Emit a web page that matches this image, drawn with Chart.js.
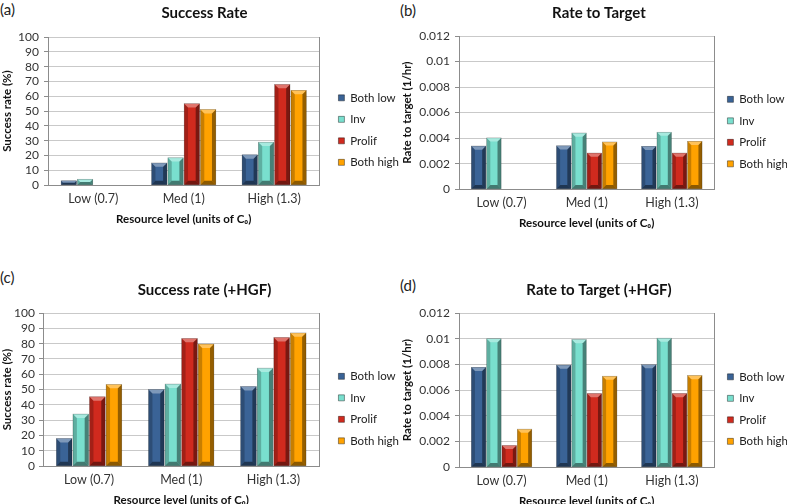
<!DOCTYPE html>
<html>
<head>
<meta charset="utf-8">
<script src="https://cdn.jsdelivr.net/npm/chart.js@4.4.0/dist/chart.umd.min.js"></script>
<style>
    body { margin: 0; background: #fff; width: 787px; height: 504px; position: relative; overflow: hidden; font-family: Lato, sans-serif; }
    .panel { position: absolute; }
    .tag { position: absolute; font-size: 15px; color: #222; }
</style>
</head>
<body>
<div class="tag" style="left:0px;top:0px">(a)</div>
<div class="tag" style="left:400px;top:1px">(b)</div>
<div class="tag" style="left:0px;top:268px">(c)</div>
<div class="tag" style="left:400px;top:276px">(d)</div>

<div class="panel" style="left:0px;top:0px;width:409px;height:226px"><canvas id="chart-a"></canvas></div>
<div class="panel" style="left:400px;top:0px;width:398px;height:230px"><canvas id="chart-b"></canvas></div>
<div class="panel" style="left:0px;top:277px;width:409px;height:230px"><canvas id="chart-c"></canvas></div>
<div class="panel" style="left:400px;top:277px;width:398px;height:231px"><canvas id="chart-d"></canvas></div>

<script>
// ---- data ----
const categories = ['Low (0.7)', 'Med (1)', 'High (1.3)'];
const seriesNames = ['Both low', 'Inv', 'Prolif', 'Both high'];
const seriesColors = ['#3a6396', '#79dfce', '#d02a1e', '#ffa200'];

// (a) Success Rate
const successBothLow = [3, 15, 20.5];
const successInv = [4, 18.5, 29];
const successProlif = [0, 55, 68];
const successBothHigh = [0, 51, 64];

// (b) Rate to Target
const rateBothLow = [0.00338, 0.0034, 0.00336];
const rateInv = [0.00402, 0.0044, 0.00446];
const rateProlif = [0, 0.00283, 0.00283];
const rateBothHigh = [0, 0.0037, 0.00375];

// (c) Success rate (+HGF)
const hgfSuccessBothLow = [18, 50, 52];
const hgfSuccessInv = [34, 53.6, 64];
const hgfSuccessProlif = [45.3, 83.4, 84];
const hgfSuccessBothHigh = [53.4, 79.7, 87];

// (d) Rate to Target (+HGF)
const hgfRateBothLow = [0.00777, 0.00795, 0.00798];
const hgfRateInv = [0.01, 0.00993, 0.01004];
const hgfRateProlif = [0.00169, 0.00573, 0.00573];
const hgfRateBothHigh = [0.00296, 0.00708, 0.00713];

const successTicks = [0, 10, 20, 30, 40, 50, 60, 70, 80, 90, 100];
const rateTicks = [0, 0.002, 0.004, 0.006, 0.008, 0.01, 0.012];

const xTitle = 'Resource level (units of C\u2080)';

// bevel shading so the bars look like the raised Excel bars
const bevelPlugin = {
    id: 'bevel',
    afterDatasetsDraw(chart) {
        const ctx = chart.ctx;
        chart.data.datasets.forEach((ds, i) => {
            const meta = chart.getDatasetMeta(i);
            meta.data.forEach(bar => {
                const p = bar.getProps(['x', 'y', 'base', 'width'], true);
                const top = Math.min(p.y, p.base);
                const bottom = Math.max(p.y, p.base);
                const h = bottom - top;
                if (h < 1) return;
                const l = p.x - p.width / 2;
                const r = p.x + p.width / 2;
                const b = Math.min(4, p.width / 4, h / 2);
                const quad = (pts, color) => {
                    ctx.beginPath();
                    ctx.moveTo(pts[0], pts[1]);
                    for (let k = 2; k < pts.length; k += 2) ctx.lineTo(pts[k], pts[k + 1]);
                    ctx.closePath();
                    ctx.fillStyle = color;
                    ctx.fill();
                };
                ctx.save();
                quad([l, top, l + b, top + b, l + b, bottom - b, l, bottom], 'rgba(0,0,0,0.22)');
                quad([r, top, r - b, top + b, r - b, bottom - b, r, bottom], 'rgba(0,0,0,0.42)');
                quad([l, top, r, top, r - b, top + b, l + b, top + b], 'rgba(255,255,255,0.35)');
                quad([l, bottom, r, bottom, r - b, bottom - b, l + b, bottom - b], 'rgba(0,0,0,0.45)');
                ctx.strokeStyle = 'rgba(0,0,0,0.35)';
                ctx.lineWidth = 0.6;
                ctx.strokeRect(l, top, r - l, h);
                ctx.restore();
            });
        });
    }
};

// right edge of the plot box
const frameBoxPlugin = {
    id: 'frameBox',
    beforeDatasetsDraw(chart) {
        const a = chart.chartArea;
        const ctx = chart.ctx;
        ctx.save();
        ctx.strokeStyle = '#8c8c8c';
        ctx.lineWidth = 1;
        ctx.beginPath();
        ctx.moveTo(Math.round(a.right) + 0.5, a.top);
        ctx.lineTo(Math.round(a.right) + 0.5, a.bottom);
        ctx.stroke();
        ctx.restore();
    }
};

function makeChart(id, cfg) {
    const values = [cfg.bothLow, cfg.inv, cfg.prolif, cfg.bothHigh];
    return new Chart(document.getElementById(id), {
        type: 'bar',
        data: {
            labels: categories,
            datasets: seriesNames.map((name, i) => ({
                label: name,
                data: values[i],
                backgroundColor: seriesColors[i],
                borderWidth: 0,
                categoryPercentage: 0.72,
                barPercentage: 0.94
            }))
        },
        options: {
            responsive: true,
            maintainAspectRatio: false,
            animation: false,
            layout: { padding: 0 },
            plugins: {
                title: {
                    display: true,
                    text: cfg.title,
                    color: '#111',
                    font: { family: 'Lato', size: 15, weight: 'bold' },
                    padding: { top: 4, bottom: cfg.titleGap }
                },
                legend: {
                    position: 'right',
                    align: 'center',
                    fullSize: false,
                    maxWidth: 90,
                    // blank title only nudges the items below the plot centre
                    title: { display: true, text: '', font: { size: 10 }, padding: { top: 26, bottom: 0 } },
                    labels: {
                        color: '#222',
                        font: { family: 'Lato', size: 11.5 },
                        boxWidth: 6,
                        boxHeight: 6,
                        padding: 10,
                        generateLabels(chart) {
                            return chart.data.datasets.map((ds, i) => ({
                                text: ds.label,
                                fillStyle: ds.backgroundColor,
                                strokeStyle: 'rgba(0,0,0,0.4)',
                                lineWidth: 1,
                                hidden: false,
                                datasetIndex: i,
                                fontColor: '#222'
                            }));
                        }
                    }
                },
                tooltip: { enabled: false }
            },
            scales: {
                x: {
                    grid: { display: false, drawTicks: false },
                    border: { display: true, color: '#8c8c8c' },
                    ticks: { color: '#333', font: { family: 'Lato', size: 12.5 }, padding: 6 },
                    title: {
                        display: true,
                        text: xTitle,
                        color: '#111',
                        font: { family: 'Lato', size: 11.5, weight: 'bold' },
                        padding: { top: 0, bottom: 0 }
                    }
                },
                y: {
                    min: 0,
                    max: cfg.ticks[cfg.ticks.length - 1],
                    afterFit(scale) { scale.width = cfg.yWidth; },
                    afterBuildTicks(scale) { scale.ticks = cfg.ticks.map(v => ({ value: v })); },
                    grid: { color: '#c9c9c9', drawTicks: true, tickLength: 4, tickColor: '#8c8c8c' },
                    border: { display: true, color: '#8c8c8c' },
                    ticks: {
                        color: '#333',
                        font: { family: 'Lato', size: 12 },
                        padding: cfg.yTickPad,
                        autoSkip: false,
                        callback: v => String(+Number(v).toFixed(4))
                    },
                    title: {
                        display: true,
                        text: cfg.yTitle,
                        color: '#111',
                        font: { family: 'Lato', size: 11.5, weight: 'bold' },
                        padding: { top: 0, bottom: 0 }
                    }
                },
                // empty axis, only keeps a gap between the plot box and the legend
                gap: {
                    type: 'linear',
                    position: 'right',
                    grid: { display: false, drawTicks: false },
                    border: { display: false },
                    ticks: { display: false },
                    afterFit(scale) { scale.width = cfg.legendGap; }
                }
            }
        },
        plugins: [frameBoxPlugin, bevelPlugin]
    });
}

makeChart('chart-a', {
    title: 'Success Rate', yTitle: 'Success rate (%)', ticks: successTicks,
    bothLow: successBothLow, inv: successInv, prolif: successProlif, bothHigh: successBothHigh,
    yWidth: 48, titleGap: 15, yTickPad: 5, legendGap: 9
});
makeChart('chart-b', {
    title: 'Rate to Target', yTitle: 'Rate to target (1/hr)', ticks: rateTicks,
    bothLow: rateBothLow, inv: rateInv, prolif: rateProlif, bothHigh: rateBothHigh,
    yWidth: 59, titleGap: 14, yTickPad: 5, legendGap: 3
});
makeChart('chart-c', {
    title: 'Success rate (+HGF)', yTitle: 'Success rate (%)', ticks: successTicks,
    bothLow: hgfSuccessBothLow, inv: hgfSuccessInv, prolif: hgfSuccessProlif, bothHigh: hgfSuccessBothHigh,
    yWidth: 43, titleGap: 14, yTickPad: 4, legendGap: 9
});
makeChart('chart-d', {
    title: 'Rate to Target (+HGF)', yTitle: 'Rate to target (1/hr)', ticks: rateTicks,
    bothLow: hgfRateBothLow, inv: hgfRateInv, prolif: hgfRateProlif, bothHigh: hgfRateBothHigh,
    yWidth: 59, titleGap: 14, yTickPad: 5, legendGap: 3
});
</script>
</body>
</html>
